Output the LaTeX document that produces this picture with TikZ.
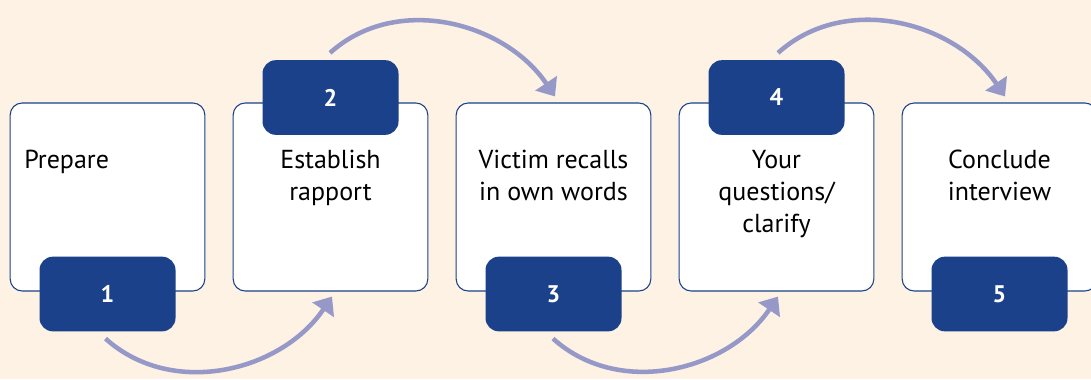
\documentclass[tikz,border=0pt]{standalone}
\usepackage{fontspec}
\setmainfont{PT Sans}
\usetikzlibrary{arrows.meta}

\definecolor{cream}{RGB}{254,242,228}
\definecolor{stepblue}{RGB}{26,65,137}
\definecolor{flowlilac}{RGB}{150,153,200}

\tikzset{
  stepbox/.style={draw=stepblue, line width=0.8pt, fill=white, rounded corners=9pt,
    minimum width=146pt, minimum height=141pt, inner sep=0pt},
  numtab/.style={fill=stepblue, rounded corners=10pt, text=white, font=\bfseries\fontsize{18}{18}\selectfont,
    minimum width=102pt, minimum height=56pt, inner sep=0pt},
  steptext/.style={anchor=north, align=center, inner sep=0pt, font=\fontsize{19.5}{24}\selectfont},
  flow/.style={draw=flowlilac, line width=3.4pt, -{Triangle[length=12pt,width=19pt]}}
}

\begin{document}
\begin{tikzpicture}[x=0.75pt,y=0.75pt]
  \fill[cream] (0,0) rectangle (1091,-379);
  \useasboundingbox (0,0) rectangle (1091,-379);

  % the five steps
  \node[stepbox] (B1) at (107.5,-197) {};
  \node[stepbox] (B2) at (330.5,-197) {};
  \node[stepbox] (B3) at (553.5,-197) {};
  \node[stepbox] (B4) at (776.5,-197) {};
  \node[stepbox] (B5) at (999.5,-197) {};

  \node[steptext, anchor=north west] (T1) at (24,-150) {Prepare};
  \node[steptext] (T2) at (330.5,-150) {Establish\\rapport};
  \node[steptext] (T3) at (553.5,-150) {Victim recalls\\in own words};
  \node[steptext] (T4) at (776.5,-150) {Your\\questions/\\clarify};
  \node[steptext] (T5) at (999.5,-150) {Conclude\\interview};

  % number tabs
  \node[numtab] (N1) at (107.5,-294) {1};
  \node[numtab] (N2) at (330.5,-97.5) {2};
  \node[numtab] (N3) at (553.5,-294) {3};
  \node[numtab] (N4) at (776.5,-97.5) {4};
  \node[numtab] (N5) at (999.5,-294) {5};

  % arrows between steps
  \draw[flow] ([shift={(-2,-7)}]N1.south) to[out=-42, in=-124] ([shift={(1.5,-5)}]B2.south);
  \draw[flow] ([shift={(-0.5,7)}]N2.north) to[out=42, in=124] ([shift={(1.5,6)}]B3.north);
  \draw[flow] ([shift={(-0.5,-7)}]N3.south) to[out=-42, in=-124] ([shift={(1.5,-5)}]B4.south);
  \draw[flow] ([shift={(1.5,7)}]N4.north) to[out=42, in=124] ([shift={(5.5,6)}]B5.north);
\end{tikzpicture}
\end{document}
